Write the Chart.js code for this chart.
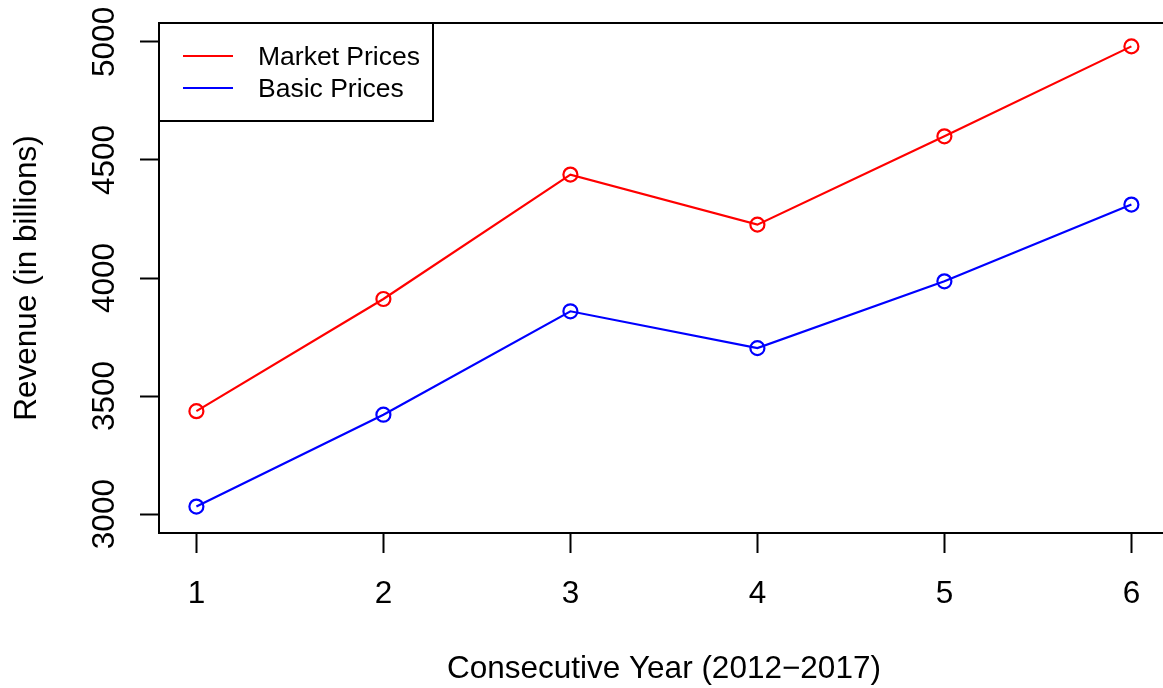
<!DOCTYPE html>
<html>
<head>
<meta charset="utf-8">
<script src="https://cdn.jsdelivr.net/npm/chart.js@4/dist/chart.umd.min.js"></script>
<style>
  html, body { margin: 0; padding: 0; background: #fff; overflow: hidden; }
  #myChart { display: block; }
</style>
</head>
<body>
<!-- canvas is a bit wider than the window: the R plot box runs past the right edge -->
<canvas id="myChart" width="1178" height="688"></canvas>
<script>
const years = [1, 2, 3, 4, 5, 6];
const marketPrices = [3436, 3911, 4438, 4226, 4600, 4981];
const basicPrices = [3032, 3421, 3859, 3703, 3986, 4311];
const xTicks = [1, 2, 3, 4, 5, 6];
const yTicks = [3000, 3500, 4000, 4500, 5000];

const FONT = "'Liberation Sans', Arial, Helvetica, sans-serif";

// full box round the plot region, R style
const boxPlugin = {
  id: 'box',
  afterDraw(chart) {
    const a = chart.chartArea;
    const ctx = chart.ctx;
    ctx.save();
    ctx.strokeStyle = '#000';
    ctx.lineWidth = 2;
    ctx.strokeRect(a.left, a.top, a.right - a.left, a.bottom - a.top);
    ctx.restore();
  }
};

// R legend in the top left corner
const legendBox = {
  id: 'legendBox',
  afterDraw(chart) {
    const a = chart.chartArea;
    const ctx = chart.ctx;
    const w = 274, h = 98;
    ctx.save();
    ctx.fillStyle = '#fff';
    ctx.fillRect(a.left, a.top, w, h);
    ctx.strokeStyle = '#000';
    ctx.lineWidth = 2;
    ctx.strokeRect(a.left, a.top, w, h);
    ctx.font = '26.5px ' + FONT;
    ctx.textBaseline = 'middle';
    chart.data.datasets.forEach((ds, i) => {
      const y = a.top + 33 + i * 32;
      ctx.strokeStyle = ds.borderColor;
      ctx.beginPath();
      ctx.moveTo(a.left + 24, y);
      ctx.lineTo(a.left + 74, y);
      ctx.stroke();
      ctx.fillStyle = '#000';
      ctx.fillText(ds.label, a.left + 99, y + 1.5);
    });
    ctx.restore();
  }
};

new Chart(document.getElementById('myChart'), {
  type: 'line',
  data: {
    datasets: [
      {
        label: 'Market Prices',
        data: years.map((x, i) => ({ x: x, y: marketPrices[i] })),
        borderColor: '#ff0000',
        pointBorderColor: '#ff0000',
        pointBackgroundColor: 'rgba(0,0,0,0)',
        borderWidth: 2.2,
        pointRadius: 7,
        pointBorderWidth: 2.2,
        tension: 0
      },
      {
        label: 'Basic Prices',
        data: years.map((x, i) => ({ x: x, y: basicPrices[i] })),
        borderColor: '#0000ff',
        pointBorderColor: '#0000ff',
        pointBackgroundColor: 'rgba(0,0,0,0)',
        borderWidth: 2.2,
        pointRadius: 7,
        pointBorderWidth: 2.2,
        tension: 0
      }
    ]
  },
  options: {
    responsive: false,
    animation: false,
    layout: { padding: { left: 0, top: 23, right: 0, bottom: 0 } },
    plugins: {
      legend: { display: false },
      tooltip: { enabled: false }
    },
    scales: {
      x: {
        type: 'linear',
        min: 0.8,
        max: 6.2,
        afterBuildTicks: s => { s.ticks = xTicks.map(v => ({ value: v })); },
        afterFit: s => { s.height = 155; },
        border: { display: false },
        grid: { drawOnChartArea: false, drawTicks: true, tickLength: 20, tickColor: '#000', tickWidth: 2 },
        ticks: { color: '#000', padding: 22, maxRotation: 0, font: { family: FONT, size: 31.5 } },
        title: {
          display: true,
          text: 'Consecutive Year (2012\u22122017)',
          color: '#000',
          font: { family: FONT, size: 31.5, lineHeight: 1 },
          padding: { top: 0, bottom: 3 }
        }
      },
      y: {
        type: 'linear',
        min: 2920,
        max: 5080,
        afterBuildTicks: s => { s.ticks = yTicks.map(v => ({ value: v })); },
        afterFit: s => { s.width = 159; s.paddingTop = 0; s.paddingBottom = 0; },
        border: { display: false },
        grid: { drawOnChartArea: false, drawTicks: true, tickLength: 19, tickColor: '#000', tickWidth: 2 },
        ticks: {
          color: '#000', padding: 0, minRotation: 90, maxRotation: 90, crossAlign: 'center',
          font: { family: FONT, size: 31.5 },
          callback: v => String(v)
        },
        title: {
          display: true,
          text: 'Revenue (in billions)',
          color: '#000',
          font: { family: FONT, size: 31.5, lineHeight: 1 },
          padding: { top: 12, bottom: 0 }
        }
      }
    }
  },
  plugins: [boxPlugin, legendBox]
});
</script>
</body>
</html>
